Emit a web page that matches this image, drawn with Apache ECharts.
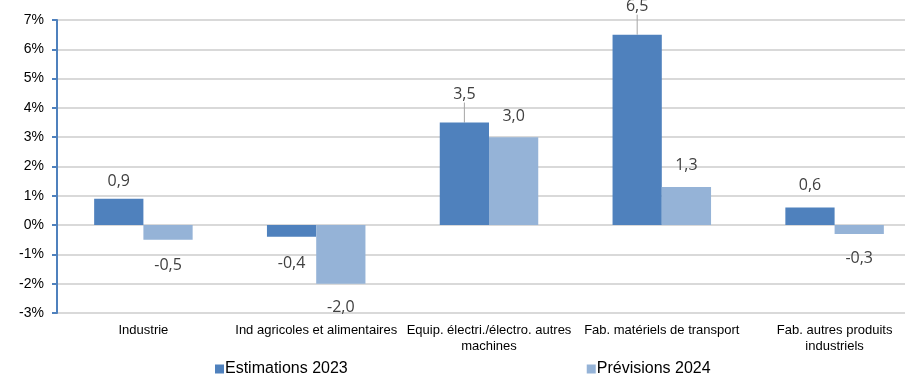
<!DOCTYPE html>
<html>
<head>
<meta charset="utf-8">
<script src="https://cdn.jsdelivr.net/npm/echarts@6/dist/echarts.min.js"></script>
<style>html,body{margin:0;padding:0;background:#fff}#c{width:905px;height:377px}</style>
</head>
<body>
<div id="c"></div>
<script>
var categories = ['Industrie', 'Ind agricoles et alimentaires', 'Equip. électri./électro. autres\nmachines', 'Fab. matériels de transport', 'Fab. autres produits\nindustriels'];
var seriesNames = ['Estimations 2023', 'Prévisions 2024'];
var estimations2023 = [0.9, -0.4, 3.5, 6.5, 0.6];
var previsions2024 = [-0.5, -2.0, 3.0, 1.3, -0.3];
var yTicks = [-3, -2, -1, 0, 1, 2, 3, 4, 5, 6, 7];

// label styling (distance from bar end, leader lines)
var labelDist = [[9, 19, 8, 8, 14], [18, 16, 13, 14, 17]];
var leader = [[false, false, true, true, false], [false, false, false, false, false]];
var leaderShift = [[0, 0, -12, -12, 0], [0, 0, 0, 0, 0]];

function build(vals, si) {
  return vals.map(function (v, i) {
    var item = {
      value: v,
      label: { position: v >= 0 ? 'top' : 'bottom', distance: labelDist[si][i] }
    };
    if (leader[si][i]) {
      item.labelLine = { show: true, lineStyle: { color: '#a6a6a6', width: 1 } };
    }
    return item;
  });
}

var colors = ['#4f81bd', '#95b3d7'];
var chart = echarts.init(document.getElementById('c'));
var labelStyle = {
  show: true,
  color: '#404040',
  fontFamily: 'Open Sans',
  fontSize: 16,
  formatter: function (p) { return p.value.toFixed(1).replace('.', ','); }
};
chart.setOption({
  animation: false,
  grid: { left: 57, width: 864, top: 20, bottom: 64, outerBoundsMode: 'none', containLabel: false },
  legend: {
    data: seriesNames,
    left: 215,
    top: 361,
    padding: 0,
    itemWidth: 9,
    itemHeight: 9,
    itemGap: 239,
    icon: 'rect',
    textStyle: { fontFamily: 'Liberation Sans', fontSize: 16, color: '#000', padding: [0, 0, 0, -4] }
  },
  xAxis: {
    type: 'category',
    data: categories,
    position: 'bottom',
    axisLine: { show: false },
    axisTick: { show: false },
    axisLabel: { fontFamily: 'Liberation Sans', fontSize: 13, color: '#000', margin: 9, lineHeight: 16, interval: 0 }
  },
  yAxis: {
    type: 'value',
    min: yTicks[0],
    max: yTicks[yTicks.length - 1],
    interval: 1,
    axisLine: { show: true, lineStyle: { color: '#4f81bd', width: 2 } },
    axisTick: { show: true, length: 5, lineStyle: { color: '#4f81bd', width: 2 } },
    axisLabel: { fontFamily: 'Liberation Sans', fontSize: 14, color: '#000', margin: 13, formatter: function (v) { return v + '%'; } },
    splitLine: { lineStyle: { color: '#d9d9d9', width: 2 } }
  },
  series: [
    {
      name: seriesNames[0], type: 'bar', data: build(estimations2023, 0),
      itemStyle: { color: colors[0] }, barGap: '0%', barCategoryGap: '43%',
      label: labelStyle,
      labelLayout: function (p) { return { dy: leaderShift[0][p.dataIndex] }; }
    },
    {
      name: seriesNames[1], type: 'bar', data: build(previsions2024, 1),
      itemStyle: { color: colors[1] }, barGap: '0%', barCategoryGap: '43%',
      label: labelStyle,
      labelLayout: function (p) { return { dy: leaderShift[1][p.dataIndex] }; }
    }
  ]
});
</script>
</body>
</html>
